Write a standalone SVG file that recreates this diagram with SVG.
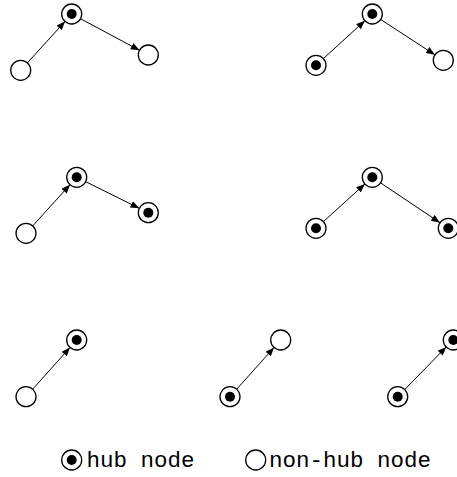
<svg xmlns="http://www.w3.org/2000/svg" width="457" height="477" viewBox="0 0 457 477">
  <style>
    .node { fill: #fff; stroke: #000; stroke-width: 1.3; }
    .core { fill: #000; }
    .edge { stroke: #000; stroke-width: 1; fill: none; marker-end: url(#arrow); }
    .label { font-family: "Liberation Mono", "DejaVu Sans Mono", monospace; font-size: 22.5px; fill: #000; }
  </style>
  <defs>
    <marker id="arrow" viewBox="0 0 10 8" refX="10" refY="4" markerWidth="9" markerHeight="7" markerUnits="userSpaceOnUse" orient="auto">
      <path d="M0,0 L10,4 L0,8 Z" fill="#000"/>
    </marker>
    <g id="hub">
      <circle class="node" r="10"/>
      <circle class="core" r="5"/>
    </g>
    <g id="plain">
      <circle class="node" r="10"/>
    </g>
  </defs>

  <g id="connectors">
    <!-- row 1 -->
    <line class="edge" x1="27.4" y1="62.9" x2="65.0" y2="21.4"/>
    <line class="edge" x1="80.5" y1="18.7" x2="139.5" y2="50.3"/>
    <line class="edge" x1="323.4" y1="58.6" x2="364.9" y2="20.7"/>
    <line class="edge" x1="380.7" y1="19.5" x2="434.9" y2="54.8"/>
    <!-- row 2 -->
    <line class="edge" x1="32.7" y1="225.9" x2="70.0" y2="184.7"/>
    <line class="edge" x1="85.7" y1="181.7" x2="139.3" y2="208.3"/>
    <line class="edge" x1="323.4" y1="221.6" x2="364.9" y2="184.0"/>
    <line class="edge" x1="380.6" y1="182.9" x2="440.0" y2="222.7"/>
    <!-- row 3 -->
    <line class="edge" x1="32.7" y1="389.2" x2="70.0" y2="347.5"/>
    <line class="edge" x1="236.7" y1="389.2" x2="274.0" y2="347.5"/>
    <line class="edge" x1="404.7" y1="389.6" x2="446.3" y2="346.9"/>
  </g>

  <!-- row 1, left -->
  <g id="a-top"><use href="#hub" x="71.7" y="14"/></g>
  <g id="a-left"><use href="#plain" x="20.7" y="70.3"/></g>
  <g id="a-right"><use href="#plain" x="148.3" y="55"/></g>
  <!-- row 1, right -->
  <g id="b-top"><use href="#hub" x="372.3" y="14"/></g>
  <g id="b-left"><use href="#hub" x="316" y="65.3"/></g>
  <g id="b-right"><use href="#plain" x="443.3" y="60.3"/></g>
  <!-- row 2, left -->
  <g id="c-top"><use href="#hub" x="76.7" y="177.3"/></g>
  <g id="c-left"><use href="#plain" x="26" y="233.3"/></g>
  <g id="c-right"><use href="#hub" x="148.3" y="212.7"/></g>
  <!-- row 2, right -->
  <g id="d-top"><use href="#hub" x="372.3" y="177.3"/></g>
  <g id="d-left"><use href="#hub" x="316" y="228.3"/></g>
  <g id="d-right"><use href="#hub" x="448.3" y="228.3"/></g>
  <!-- row 3 -->
  <g id="e-top"><use href="#hub" x="76.7" y="340"/></g>
  <g id="e-bottom"><use href="#plain" x="26" y="396.7"/></g>
  <g id="f-top"><use href="#plain" x="280.7" y="340"/></g>
  <g id="f-bottom"><use href="#hub" x="230" y="396.7"/></g>
  <g id="g-top"><use href="#hub" x="453.3" y="340"/></g>
  <g id="g-bottom"><use href="#hub" x="397.7" y="396.7"/></g>

  <!-- legend -->
  <g id="legend-hub">
    <use href="#hub" x="71.7" y="460"/>
    <text class="label" x="86.5" y="467">hub node</text>
  </g>
  <g id="legend-plain">
    <use href="#plain" x="255.7" y="460"/>
    <text class="label" x="269" y="467">non-hub node</text>
  </g>
</svg>
